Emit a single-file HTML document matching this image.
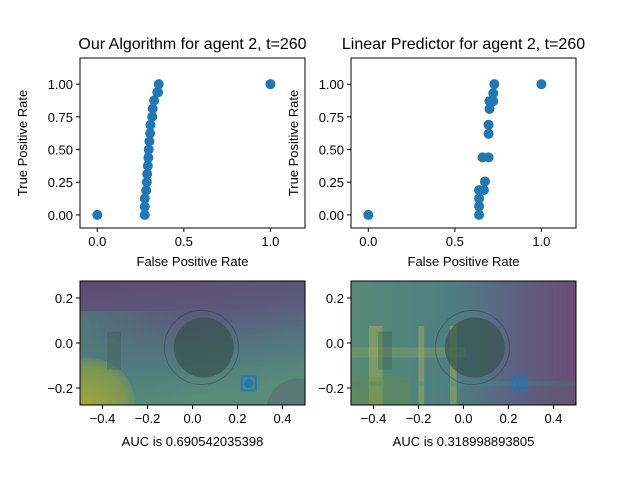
<!DOCTYPE html>
<html><head><meta charset="utf-8"><style>
body{margin:0;background:#fff;}
svg{display:block;font-family:"Liberation Sans","DejaVu Sans",sans-serif;}
</style></head><body>
<svg id="c" width="640" height="480" viewBox="0 0 640 480">
<defs>
<linearGradient id="lg1" x1="0" y1="0" x2="0.3" y2="1">
<stop offset="0" stop-color="#5e4a72"/><stop offset="0.4" stop-color="#5c5a7c"/><stop offset="0.75" stop-color="#527a80"/><stop offset="1" stop-color="#5a8c78"/></linearGradient>
<linearGradient id="lg1b" x1="0" y1="0" x2="1" y2="0">
<stop offset="0" stop-color="#4a8a7a" stop-opacity="0.6"/><stop offset="0.5" stop-color="#4a8a7a" stop-opacity="0"/></linearGradient>
<radialGradient id="rg1" cx="0.5" cy="0.5" r="0.5">
<stop offset="0" stop-color="#a8a838" stop-opacity="0.9"/><stop offset="0.8" stop-color="#8a9c48" stop-opacity="0.75"/><stop offset="1" stop-color="#7a9a58" stop-opacity="0.3"/></radialGradient>
<linearGradient id="lg2" x1="0" y1="0" x2="1" y2="0">
<stop offset="0" stop-color="#568a76"/><stop offset="0.45" stop-color="#4e7e82"/><stop offset="0.7" stop-color="#5c6484"/><stop offset="1" stop-color="#6a4c74"/></linearGradient>
<clipPath id="cp1"><rect x="80" y="281" width="225" height="124"/></clipPath>
<clipPath id="cp2"><rect x="351" y="281" width="225" height="124"/></clipPath>
</defs>
<g id="root"></g>
</svg>
<script>
const leftFpr=[0,0.274,0.274,0.274,0.282,0.286,0.288,0.292,0.295,0.297,0.301,0.305,0.307,0.317,0.320,0.328,0.347,0.351,0.355,1];
const leftTpr=[0,0,0.0625,0.125,0.1875,0.25,0.3125,0.375,0.4375,0.5,0.5625,0.625,0.6875,0.75,0.8125,0.875,0.9375,0.9375,1,1];
const rightFpr=[0,0.64,0.64,0.64,0.64,0.668,0.674,0.66,0.695,0.695,0.695,0.70,0.70,0.703,0.722,0.722,0.728,1];
const rightTpr=[0,0,0.066,0.125,0.19,0.19,0.256,0.44,0.44,0.62,0.69,0.81,0.87,0.87,0.87,0.93,1,1];
const rocXTicks=[0,0.5,1];
const rocYTicks=[0,0.25,0.5,0.75,1];
const imgXTicks=[-0.4,-0.2,0,0.2,0.4];
const imgYTicks=[0.2,0,-0.2];
const titles=["Our Algorithm for agent 2, t=260","Linear Predictor for agent 2, t=260"];
const aucs=["AUC is 0.690542035398","AUC is 0.318998893805"];
const target=[0.25,-0.18];

const NS="http://www.w3.org/2000/svg";
const root=document.getElementById('root');
function el(tag,attrs,parent,text){const e=document.createElementNS(NS,tag);for(const k in attrs)e.setAttribute(k,attrs[k]);if(text!==undefined)e.textContent=text;(parent||root).appendChild(e);return e;}
function fmt2(v){return v.toFixed(2);}
function fmtI(v){const s=v.toFixed(1);return v<0?'\u2212'+s.slice(1):s;}

[0,1].forEach(i=>{
  const X0=i?351:80, W=225, Y0=58, H=170;
  const sx=v=>X0+(v+0.1)/1.3*W, sy=v=>Y0+H-(v+0.1)/1.3*H;
  const g=el('g',{});
  
  
  const t=el('text',{x:X0+W/2,y:49,'text-anchor':'middle','font-size':16,fill:'#000'},g,titles[i]);
  
  const fx=i?rightFpr:leftFpr, ty=i?rightTpr:leftTpr;
  fx.forEach((v,k)=>{const c=el('circle',{cx:sx(v),cy:sy(ty[k]),r:5,fill:'#1f77b4'},g);
    });
  const f=el('rect',{x:X0,y:Y0,width:W,height:H,fill:'none',stroke:'#000','stroke-width':1},g);
  
  rocXTicks.forEach(v=>{el('line',{x1:sx(v),x2:sx(v),y1:Y0+H,y2:Y0+H+4,stroke:'#000'},g);
    const l=el('text',{x:sx(v),y:Y0+H+18,'text-anchor':'middle','font-size':13},g,v.toFixed(1));
    });
  rocYTicks.forEach(v=>{el('line',{x1:X0,x2:X0-4,y1:sy(v),y2:sy(v),stroke:'#000'},g);
    const l=el('text',{x:X0-7,y:sy(v)+5,'text-anchor':'end','font-size':13},g,fmt2(v));
    });
  const xl=el('text',{x:X0+W/2,y:266,'text-anchor':'middle','font-size':13},g,'False Positive Rate');
  
  const yl=el('text',{x:0,y:0,'text-anchor':'middle','font-size':13,transform:`translate(${X0-53},${Y0+H/2}) rotate(-90)`},g,'True Positive Rate');
  
});

[0,1].forEach(i=>{
  const X0=i?351:80, W=225, Y0=281, H=124;
  const sx=v=>X0+(v+0.5)*W, sy=v=>Y0+H-(v+0.2755)/0.551*H;
  const g=el('g',{});
  
  
  const ig=el('g',{'clip-path':`url(#cp${i+1})`},g);
  if(!i){
    el('rect',{x:X0,y:Y0,width:W,height:H,fill:'url(#lg1)'},ig);
    el('rect',{x:X0,y:Y0+30,width:W,height:H-30,fill:'url(#lg1b)'},ig);
    el('circle',{cx:sx(-0.46),cy:sy(-0.27),r:46,fill:'url(#rg1)'},ig);
  } else {
    el('rect',{x:X0,y:Y0,width:W,height:H,fill:'url(#lg2)'},ig);
    [[-0.42,0.06],[-0.2,0.025],[-0.06,0.03]].forEach(b=>{
      el('rect',{x:sx(b[0]),y:Y0+45,width:b[1]*W,height:H-45,fill:'#b0b450',opacity:0.45},ig);});
    el('rect',{x:X0,y:sy(-0.02),width:115,height:10,fill:'#a0b058',opacity:0.3},ig);
    el('rect',{x:X0,y:sy(-0.17),width:W,height:5,fill:'#3a8a90',opacity:0.3},ig);
    el('rect',{x:X0,y:sy(-0.15),width:60,height:40,fill:'#6a8a40',opacity:0.35},ig);
  }
  el('circle',{cx:sx(0.05),cy:sy(-0.02),r:30,fill:'#34504a',opacity:0.65},ig);
  el('circle',{cx:sx(0.04),cy:sy(-0.02),r:37,fill:'none',stroke:'#2a3040','stroke-width':1,opacity:0.4},ig);
  el('circle',{cx:sx(0.47),cy:sy(-0.3),r:32,fill:'#5a6070',opacity:0.45},ig);
  el('rect',{x:sx(-0.38),y:sy(0.05),width:14,height:38,fill:'#3a5a50',opacity:0.35},ig);
  const ms=el('rect',{x:sx(target[0])-7,y:sy(target[1])-7,width:14,height:14,fill:'none',stroke:'#1f77b4','stroke-width':2},g);
  
  const mc=el('circle',{cx:sx(target[0]),cy:sy(target[1]),r:4.5,fill:'#1f77b4'},g);
  
  const f=el('rect',{x:X0,y:Y0,width:W,height:H,fill:'none',stroke:'#000','stroke-width':1},g);
  
  imgXTicks.forEach(v=>{el('line',{x1:sx(v),x2:sx(v),y1:Y0+H,y2:Y0+H+4,stroke:'#000'},g);
    const l=el('text',{x:sx(v),y:Y0+H+18,'text-anchor':'middle','font-size':13},g,fmtI(v));
    });
  imgYTicks.forEach(v=>{el('line',{x1:X0,x2:X0-4,y1:sy(v),y2:sy(v),stroke:'#000'},g);
    const l=el('text',{x:X0-7,y:sy(v)+5,'text-anchor':'end','font-size':13},g,fmtI(v));
    });
  const xl=el('text',{x:X0+W/2,y:446,'text-anchor':'middle','font-size':13},g,aucs[i]);
  
});
</script>
</body></html>
